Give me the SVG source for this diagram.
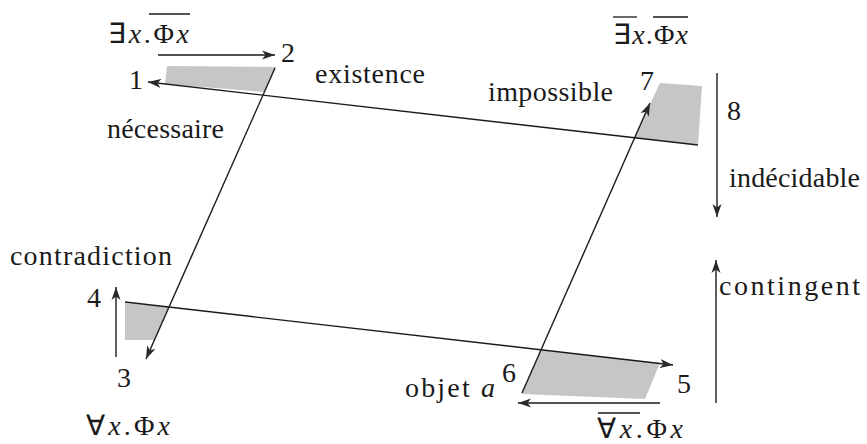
<svg xmlns="http://www.w3.org/2000/svg" width="867" height="444" viewBox="0 0 867 444">
<style>
text{font-family:'Liberation Serif','Times New Roman',serif;font-size:28px;fill:#1a1a1a}
.it{font-style:italic}
.f{font-size:28px}
.ln{stroke:#1a1a1a;stroke-width:1.4;fill:none}
.ov{stroke:#1a1a1a;stroke-width:1.3}
.sh{fill:#c6c6c6}
</style>
<defs>
<marker id="ah" markerUnits="userSpaceOnUse" markerWidth="14" markerHeight="10" refX="13" refY="5" orient="auto">
<path d="M0,0.5 L13,5 L0,9.5 L3.5,5 z" fill="#2a2a2a"/>
</marker>
</defs>
<g id="shading">
<polygon class="sh" points="167,66 276,67 264,92 165,84"/>
<polygon class="sh" points="660,83 702,86 698,145 634,138"/>
<polygon class="sh" points="125,303 169,307 154,340 125,340"/>
<polygon class="sh" points="541,350 660,363 645,399 522,394"/>
</g>
<g id="connectors">
<line class="ln" x1="158" y1="55" x2="275" y2="55" marker-end="url(#ah)"/>
<line class="ln" x1="698" y1="145" x2="148" y2="82" marker-end="url(#ah)"/>
<line class="ln" x1="275" y1="68" x2="146" y2="359" marker-end="url(#ah)"/>
<line class="ln" x1="116" y1="357" x2="116" y2="287" marker-end="url(#ah)"/>
<line class="ln" x1="125" y1="302" x2="673" y2="365" marker-end="url(#ah)"/>
<line class="ln" x1="522" y1="393" x2="650" y2="103" marker-end="url(#ah)"/>
<line class="ln" x1="660" y1="403" x2="518" y2="403" marker-end="url(#ah)"/>
<line class="ln" x1="717" y1="73" x2="717" y2="217" marker-end="url(#ah)"/>
<line class="ln" x1="716" y1="403" x2="716" y2="260" marker-end="url(#ah)"/>
</g>
<g id="formula-top-left">
<text class="f" x="108" y="43" textLength="81" lengthAdjust="spacing">∃<tspan class="it">x</tspan>.Φ<tspan class="it">x</tspan></text>
<line class="ov" x1="149" y1="14" x2="190" y2="14"/>
</g>
<g id="formula-top-right">
<text class="f" x="613" y="44" textLength="75" lengthAdjust="spacing">∃<tspan class="it">x</tspan>.Φ<tspan class="it">x</tspan></text>
<line class="ov" x1="613" y1="17" x2="637" y2="17"/>
<line class="ov" x1="653" y1="17" x2="688" y2="17"/>
</g>
<g id="formula-bottom-left">
<text class="f" x="86" y="435" textLength="84" lengthAdjust="spacing">∀<tspan class="it">x</tspan>.Φ<tspan class="it">x</tspan></text>
</g>
<g id="formula-bottom-right">
<text class="f" x="597" y="438" textLength="86" lengthAdjust="spacing">∀<tspan class="it">x</tspan>.Φ<tspan class="it">x</tspan></text>
<line class="ov" x1="598" y1="413" x2="640" y2="413"/>
</g>
<g id="node-1"><text x="129" y="89">1</text></g>
<g id="node-2"><text x="281" y="62">2</text></g>
<g id="node-3"><text x="117" y="387">3</text></g>
<g id="node-4"><text x="87" y="307">4</text></g>
<g id="node-5"><text x="677" y="393">5</text></g>
<g id="node-6"><text x="502" y="382">6</text></g>
<g id="node-7"><text x="640" y="90">7</text></g>
<g id="node-8"><text x="727" y="120">8</text></g>
<g id="labels">
<text x="107" y="138" textLength="117" lengthAdjust="spacing">nécessaire</text>
<text x="315" y="83" textLength="110" lengthAdjust="spacing">existence</text>
<text x="488" y="101" textLength="125" lengthAdjust="spacing">impossible</text>
<text x="10" y="265" textLength="162" lengthAdjust="spacing">contradiction</text>
<text x="729" y="187" textLength="131" lengthAdjust="spacing">indécidable</text>
<text x="719" y="295" textLength="141" lengthAdjust="spacing">contingent</text>
<text x="405" y="397" textLength="90" lengthAdjust="spacing">objet <tspan class="it">a</tspan></text>
</g>
</svg>
